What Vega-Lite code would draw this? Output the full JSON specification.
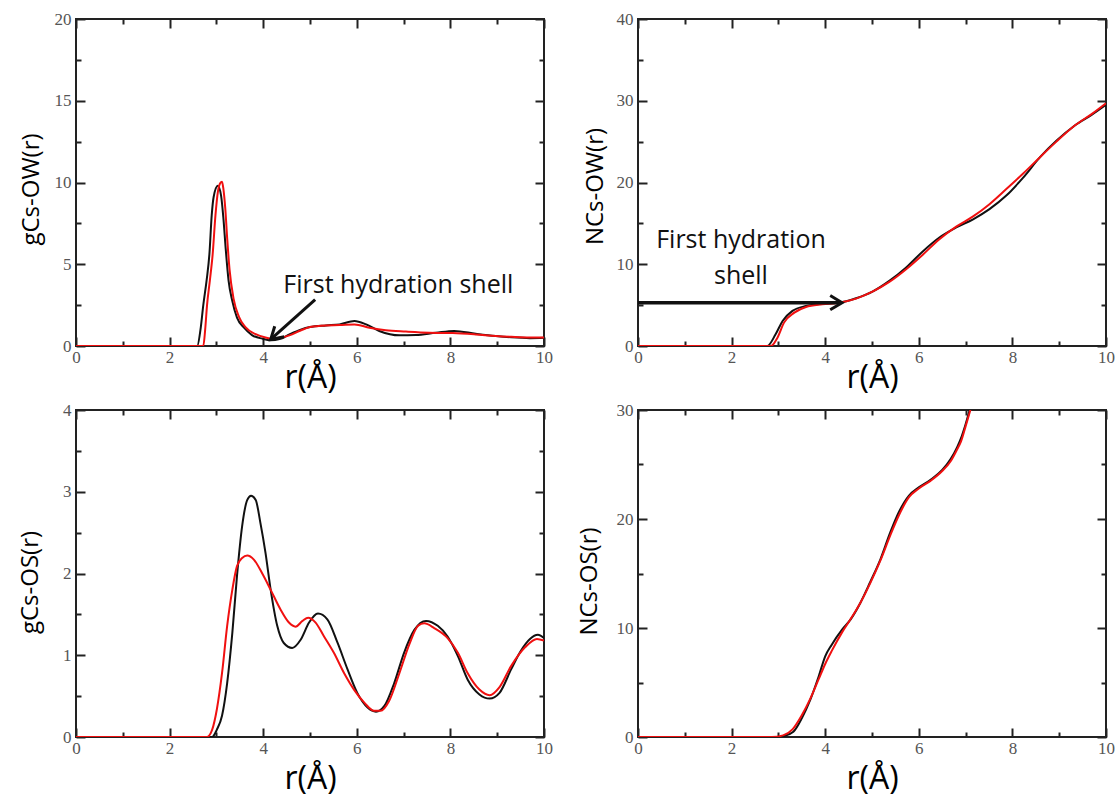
{
  "$schema": "https://vega.github.io/schema/vega-lite/v6.json",
  "background": "white",
  "padding": {"left": 17, "top": 9, "right": 5, "bottom": 5},
  "columns": 2,
  "spacing": {"row": 64, "column": 94},
  "bounds": "flush",
  "config": {
    "view": {"stroke": "#222", "strokeWidth": 2},
    "axis": {
      "grid": false,
      "domain": false,
      "labelFont": "Liberation Serif",
      "labelFontSize": 17,
      "labelColor": "#555",
      "labelFlush": false,
      "labelOverlap": false,
      "tickColor": "#222",
      "tickWidth": 2,
      "titleFont": "Open Sans",
      "titleFontWeight": "normal",
      "titleColor": "#000"
    }
  },
  "datasets": {
    "gow": [
      {"r": 0, "v": 0, "curve": "black"}, {"r": 2.5, "v": 0, "curve": "black"}, {"r": 2.59, "v": 0, "curve": "black"},
      {"r": 2.66, "v": 1.0, "curve": "black"}, {"r": 2.72, "v": 2.5, "curve": "black"}, {"r": 2.79, "v": 4.0, "curve": "black"},
      {"r": 2.85, "v": 5.6, "curve": "black"}, {"r": 2.9, "v": 8.0, "curve": "black"}, {"r": 2.94, "v": 9.1, "curve": "black"},
      {"r": 3.03, "v": 9.8, "curve": "black"}, {"r": 3.1, "v": 9.2, "curve": "black"}, {"r": 3.15, "v": 7.8, "curve": "black"},
      {"r": 3.2, "v": 5.9, "curve": "black"}, {"r": 3.26, "v": 4.0, "curve": "black"}, {"r": 3.34, "v": 2.75, "curve": "black"},
      {"r": 3.44, "v": 1.73, "curve": "black"}, {"r": 3.59, "v": 1.12, "curve": "black"}, {"r": 3.76, "v": 0.67, "curve": "black"},
      {"r": 3.98, "v": 0.45, "curve": "black"}, {"r": 4.16, "v": 0.35, "curve": "black"}, {"r": 4.35, "v": 0.42, "curve": "black"},
      {"r": 4.56, "v": 0.71, "curve": "black"}, {"r": 4.8, "v": 1.0, "curve": "black"}, {"r": 5.0, "v": 1.16, "curve": "black"},
      {"r": 5.34, "v": 1.26, "curve": "black"}, {"r": 5.63, "v": 1.32, "curve": "black"}, {"r": 5.95, "v": 1.53, "curve": "black"},
      {"r": 6.2, "v": 1.32, "curve": "black"}, {"r": 6.48, "v": 0.92, "curve": "black"}, {"r": 6.91, "v": 0.65, "curve": "black"},
      {"r": 7.26, "v": 0.67, "curve": "black"}, {"r": 7.69, "v": 0.81, "curve": "black"}, {"r": 8.08, "v": 0.92, "curve": "black"},
      {"r": 8.54, "v": 0.75, "curve": "black"}, {"r": 8.97, "v": 0.61, "curve": "black"}, {"r": 9.3, "v": 0.53, "curve": "black"},
      {"r": 9.7, "v": 0.48, "curve": "black"}, {"r": 10, "v": 0.5, "curve": "black"},
      {"r": 0, "v": 0, "curve": "red"}, {"r": 2.6, "v": 0, "curve": "red"}, {"r": 2.72, "v": 0, "curve": "red"},
      {"r": 2.76, "v": 1.0, "curve": "red"}, {"r": 2.8, "v": 2.5, "curve": "red"}, {"r": 2.86, "v": 4.0, "curve": "red"},
      {"r": 2.92, "v": 5.6, "curve": "red"}, {"r": 2.98, "v": 8.0, "curve": "red"}, {"r": 3.03, "v": 9.4, "curve": "red"},
      {"r": 3.08, "v": 9.95, "curve": "red"}, {"r": 3.12, "v": 10.05, "curve": "red"}, {"r": 3.15, "v": 9.6, "curve": "red"},
      {"r": 3.19, "v": 8.4, "curve": "red"}, {"r": 3.23, "v": 6.6, "curve": "red"}, {"r": 3.28, "v": 4.7, "curve": "red"},
      {"r": 3.37, "v": 2.85, "curve": "red"}, {"r": 3.48, "v": 1.8, "curve": "red"}, {"r": 3.62, "v": 1.15, "curve": "red"},
      {"r": 3.84, "v": 0.72, "curve": "red"}, {"r": 4.05, "v": 0.52, "curve": "red"}, {"r": 4.19, "v": 0.45, "curve": "red"},
      {"r": 4.35, "v": 0.5, "curve": "red"}, {"r": 4.56, "v": 0.65, "curve": "red"}, {"r": 4.8, "v": 0.95, "curve": "red"},
      {"r": 5.0, "v": 1.16, "curve": "red"}, {"r": 5.34, "v": 1.26, "curve": "red"}, {"r": 5.63, "v": 1.28, "curve": "red"},
      {"r": 5.95, "v": 1.32, "curve": "red"}, {"r": 6.27, "v": 1.12, "curve": "red"}, {"r": 6.62, "v": 0.96, "curve": "red"},
      {"r": 7.05, "v": 0.88, "curve": "red"}, {"r": 7.55, "v": 0.81, "curve": "red"}, {"r": 8.05, "v": 0.79, "curve": "red"},
      {"r": 8.54, "v": 0.71, "curve": "red"}, {"r": 8.97, "v": 0.61, "curve": "red"}, {"r": 9.3, "v": 0.56, "curve": "red"},
      {"r": 9.7, "v": 0.52, "curve": "red"}, {"r": 10, "v": 0.52, "curve": "red"}
    ],
    "now": [
      {"r": 0, "v": 0, "curve": "black"}, {"r": 2.6, "v": 0, "curve": "black"}, {"r": 2.76, "v": 0, "curve": "black"},
      {"r": 2.94, "v": 1.43, "curve": "black"}, {"r": 3.09, "v": 3.06, "curve": "black"}, {"r": 3.3, "v": 4.29, "curve": "black"},
      {"r": 3.59, "v": 4.9, "curve": "black"}, {"r": 3.94, "v": 5.18, "curve": "black"}, {"r": 4.3, "v": 5.3, "curve": "black"},
      {"r": 4.66, "v": 5.84, "curve": "black"}, {"r": 5.01, "v": 6.65, "curve": "black"}, {"r": 5.37, "v": 7.96, "curve": "black"},
      {"r": 5.73, "v": 9.6, "curve": "black"}, {"r": 6.09, "v": 11.6, "curve": "black"}, {"r": 6.44, "v": 13.27, "curve": "black"},
      {"r": 6.8, "v": 14.5, "curve": "black"}, {"r": 7.16, "v": 15.5, "curve": "black"}, {"r": 7.51, "v": 16.74, "curve": "black"},
      {"r": 7.87, "v": 18.4, "curve": "black"}, {"r": 8.23, "v": 20.6, "curve": "black"}, {"r": 8.59, "v": 23.1, "curve": "black"},
      {"r": 8.94, "v": 25.1, "curve": "black"}, {"r": 9.34, "v": 27.0, "curve": "black"}, {"r": 9.7, "v": 28.3, "curve": "black"},
      {"r": 10, "v": 29.5, "curve": "black"},
      {"r": 0, "v": 0, "curve": "red"}, {"r": 2.7, "v": 0, "curve": "red"}, {"r": 2.84, "v": 0, "curve": "red"},
      {"r": 2.98, "v": 1.02, "curve": "red"}, {"r": 3.12, "v": 2.86, "curve": "red"}, {"r": 3.34, "v": 4.08, "curve": "red"},
      {"r": 3.59, "v": 4.78, "curve": "red"}, {"r": 3.94, "v": 5.1, "curve": "red"}, {"r": 4.3, "v": 5.3, "curve": "red"},
      {"r": 4.66, "v": 5.8, "curve": "red"}, {"r": 5.01, "v": 6.65, "curve": "red"}, {"r": 5.37, "v": 7.84, "curve": "red"},
      {"r": 5.73, "v": 9.4, "curve": "red"}, {"r": 6.09, "v": 11.2, "curve": "red"}, {"r": 6.44, "v": 13.06, "curve": "red"},
      {"r": 6.8, "v": 14.6, "curve": "red"}, {"r": 7.16, "v": 15.85, "curve": "red"}, {"r": 7.51, "v": 17.35, "curve": "red"},
      {"r": 7.87, "v": 19.2, "curve": "red"}, {"r": 8.23, "v": 21.1, "curve": "red"}, {"r": 8.59, "v": 23.1, "curve": "red"},
      {"r": 8.94, "v": 25.0, "curve": "red"}, {"r": 9.34, "v": 27.0, "curve": "red"}, {"r": 9.7, "v": 28.4, "curve": "red"},
      {"r": 10, "v": 29.7, "curve": "red"}
    ],
    "gos": [
      {"r": 0, "v": 0, "curve": "black"}, {"r": 2.7, "v": 0, "curve": "black"}, {"r": 2.91, "v": 0, "curve": "black"},
      {"r": 3.01, "v": 0.09, "curve": "black"}, {"r": 3.12, "v": 0.26, "curve": "black"}, {"r": 3.23, "v": 0.66, "curve": "black"},
      {"r": 3.34, "v": 1.27, "curve": "black"}, {"r": 3.44, "v": 1.97, "curve": "black"}, {"r": 3.55, "v": 2.58, "curve": "black"},
      {"r": 3.66, "v": 2.9, "curve": "black"}, {"r": 3.74, "v": 2.95, "curve": "black"}, {"r": 3.84, "v": 2.9, "curve": "black"},
      {"r": 3.94, "v": 2.62, "curve": "black"}, {"r": 4.05, "v": 2.25, "curve": "black"}, {"r": 4.16, "v": 1.8, "curve": "black"},
      {"r": 4.3, "v": 1.36, "curve": "black"}, {"r": 4.44, "v": 1.15, "curve": "black"}, {"r": 4.62, "v": 1.09, "curve": "black"},
      {"r": 4.8, "v": 1.19, "curve": "black"}, {"r": 4.98, "v": 1.4, "curve": "black"}, {"r": 5.17, "v": 1.51, "curve": "black"},
      {"r": 5.37, "v": 1.44, "curve": "black"}, {"r": 5.59, "v": 1.15, "curve": "black"}, {"r": 5.8, "v": 0.83, "curve": "black"},
      {"r": 6.01, "v": 0.54, "curve": "black"}, {"r": 6.23, "v": 0.36, "curve": "black"}, {"r": 6.41, "v": 0.31, "curve": "black"},
      {"r": 6.59, "v": 0.38, "curve": "black"}, {"r": 6.8, "v": 0.66, "curve": "black"}, {"r": 7.01, "v": 1.03, "curve": "black"},
      {"r": 7.23, "v": 1.31, "curve": "black"}, {"r": 7.48, "v": 1.42, "curve": "black"}, {"r": 7.73, "v": 1.36, "curve": "black"},
      {"r": 7.94, "v": 1.23, "curve": "black"}, {"r": 8.16, "v": 0.99, "curve": "black"}, {"r": 8.37, "v": 0.7, "curve": "black"},
      {"r": 8.62, "v": 0.52, "curve": "black"}, {"r": 8.84, "v": 0.47, "curve": "black"}, {"r": 9.05, "v": 0.54, "curve": "black"},
      {"r": 9.3, "v": 0.83, "curve": "black"}, {"r": 9.5, "v": 1.05, "curve": "black"}, {"r": 9.7, "v": 1.2, "curve": "black"},
      {"r": 9.87, "v": 1.25, "curve": "black"}, {"r": 10, "v": 1.21, "curve": "black"},
      {"r": 0, "v": 0, "curve": "red"}, {"r": 2.6, "v": 0, "curve": "red"}, {"r": 2.8, "v": 0, "curve": "red"},
      {"r": 2.91, "v": 0.09, "curve": "red"}, {"r": 3.01, "v": 0.34, "curve": "red"}, {"r": 3.12, "v": 0.78, "curve": "red"},
      {"r": 3.23, "v": 1.36, "curve": "red"}, {"r": 3.34, "v": 1.8, "curve": "red"}, {"r": 3.44, "v": 2.09, "curve": "red"},
      {"r": 3.55, "v": 2.19, "curve": "red"}, {"r": 3.66, "v": 2.22, "curve": "red"}, {"r": 3.8, "v": 2.17, "curve": "red"},
      {"r": 3.98, "v": 2.0, "curve": "red"}, {"r": 4.16, "v": 1.8, "curve": "red"}, {"r": 4.37, "v": 1.56, "curve": "red"},
      {"r": 4.55, "v": 1.4, "curve": "red"}, {"r": 4.69, "v": 1.35, "curve": "red"}, {"r": 4.84, "v": 1.42, "curve": "red"},
      {"r": 4.96, "v": 1.46, "curve": "red"}, {"r": 5.12, "v": 1.4, "curve": "red"}, {"r": 5.3, "v": 1.23, "curve": "red"},
      {"r": 5.51, "v": 1.03, "curve": "red"}, {"r": 5.73, "v": 0.78, "curve": "red"}, {"r": 5.94, "v": 0.58, "curve": "red"},
      {"r": 6.16, "v": 0.42, "curve": "red"}, {"r": 6.37, "v": 0.32, "curve": "red"}, {"r": 6.51, "v": 0.32, "curve": "red"},
      {"r": 6.69, "v": 0.44, "curve": "red"}, {"r": 6.91, "v": 0.78, "curve": "red"}, {"r": 7.12, "v": 1.13, "curve": "red"},
      {"r": 7.31, "v": 1.36, "curve": "red"}, {"r": 7.44, "v": 1.39, "curve": "red"}, {"r": 7.66, "v": 1.33, "curve": "red"},
      {"r": 7.94, "v": 1.21, "curve": "red"}, {"r": 8.16, "v": 1.03, "curve": "red"}, {"r": 8.37, "v": 0.78, "curve": "red"},
      {"r": 8.62, "v": 0.58, "curve": "red"}, {"r": 8.84, "v": 0.51, "curve": "red"}, {"r": 9.05, "v": 0.61, "curve": "red"},
      {"r": 9.3, "v": 0.87, "curve": "red"}, {"r": 9.6, "v": 1.1, "curve": "red"}, {"r": 9.85, "v": 1.2, "curve": "red"},
      {"r": 10, "v": 1.18, "curve": "red"}
    ],
    "nos": [
      {"r": 0, "v": 0, "curve": "black"}, {"r": 2.8, "v": 0, "curve": "black"}, {"r": 2.93, "v": 0, "curve": "black"},
      {"r": 3.11, "v": 0.08, "curve": "black"}, {"r": 3.32, "v": 0.48, "curve": "black"}, {"r": 3.5, "v": 1.71, "curve": "black"},
      {"r": 3.68, "v": 3.4, "curve": "black"}, {"r": 3.86, "v": 5.55, "curve": "black"}, {"r": 4.0, "v": 7.4, "curve": "black"},
      {"r": 4.14, "v": 8.47, "curve": "black"}, {"r": 4.36, "v": 9.85, "curve": "black"}, {"r": 4.54, "v": 10.77, "curve": "black"},
      {"r": 4.75, "v": 12.3, "curve": "black"}, {"r": 4.96, "v": 14.2, "curve": "black"}, {"r": 5.18, "v": 16.3, "curve": "black"},
      {"r": 5.39, "v": 18.77, "curve": "black"}, {"r": 5.57, "v": 20.6, "curve": "black"}, {"r": 5.79, "v": 22.15, "curve": "black"},
      {"r": 6.0, "v": 22.9, "curve": "black"}, {"r": 6.25, "v": 23.6, "curve": "black"}, {"r": 6.5, "v": 24.5, "curve": "black"},
      {"r": 6.68, "v": 25.5, "curve": "black"}, {"r": 6.82, "v": 26.6, "curve": "black"}, {"r": 6.9, "v": 27.4, "curve": "black"},
      {"r": 7.0, "v": 28.7, "curve": "black"}, {"r": 7.1, "v": 30.2, "curve": "black"}, {"r": 7.2, "v": 31.8, "curve": "black"},
      {"r": 0, "v": 0, "curve": "red"}, {"r": 2.75, "v": 0, "curve": "red"}, {"r": 2.86, "v": 0, "curve": "red"},
      {"r": 3.1, "v": 0.15, "curve": "red"}, {"r": 3.3, "v": 0.7, "curve": "red"}, {"r": 3.5, "v": 2.0, "curve": "red"},
      {"r": 3.68, "v": 3.5, "curve": "red"}, {"r": 3.86, "v": 5.3, "curve": "red"}, {"r": 4.0, "v": 6.7, "curve": "red"},
      {"r": 4.14, "v": 7.9, "curve": "red"}, {"r": 4.36, "v": 9.6, "curve": "red"}, {"r": 4.54, "v": 10.8, "curve": "red"},
      {"r": 4.75, "v": 12.3, "curve": "red"}, {"r": 4.96, "v": 14.1, "curve": "red"}, {"r": 5.18, "v": 16.2, "curve": "red"},
      {"r": 5.39, "v": 18.5, "curve": "red"}, {"r": 5.57, "v": 20.3, "curve": "red"}, {"r": 5.79, "v": 22.0, "curve": "red"},
      {"r": 6.0, "v": 22.8, "curve": "red"}, {"r": 6.25, "v": 23.5, "curve": "red"}, {"r": 6.5, "v": 24.4, "curve": "red"},
      {"r": 6.68, "v": 25.3, "curve": "red"}, {"r": 6.82, "v": 26.4, "curve": "red"}, {"r": 6.9, "v": 27.1, "curve": "red"},
      {"r": 7.0, "v": 28.5, "curve": "red"}, {"r": 7.12, "v": 30.3, "curve": "red"}, {"r": 7.2, "v": 31.7, "curve": "red"}
    ]
  },
  "concat": [
    {
      "width": 468, "height": 327,
      "data": {"name": "gow"},
      "layer": [
        {
          "transform": [{"filter": "datum.curve === 'black'"}],
          "mark": {"type": "line", "color": "#111", "strokeWidth": 2, "interpolate": "monotone", "clip": true},
          "encoding": {
            "x": {"field": "r", "type": "quantitative", "scale": {"domain": [0, 10], "nice": false},
              "axis": {"orient": "bottom", "values": [0,1,2,3,4,5,6,7,8,9,10], "labelExpr": "datum.value % 2 === 0 ? format(datum.value, 'd') : ''",
                "tickSize": {"condition": {"test": "datum.value % 2 === 0", "value": -9}, "value": -5}, "labelPadding": 12,
                "title": "r(Å)", "titleFontSize": 32, "titlePadding": -7}},
            "y": {"field": "v", "type": "quantitative", "scale": {"domain": [0, 20], "nice": false},
              "axis": {"orient": "left", "values": [0,2.5,5,7.5,10,12.5,15,17.5,20], "labelExpr": "datum.value % 5 === 0 ? format(datum.value, 'd') : ''",
                "tickSize": {"condition": {"test": "datum.value % 5 === 0", "value": -9}, "value": -5}, "labelPadding": 14,
                "title": "gCs-OW(r)", "titleFontSize": 24, "titleX": -33, "titleY": 170}}
          }
        },
        {
          "transform": [{"filter": "datum.curve === 'red'"}],
          "mark": {"type": "line", "color": "#f01010", "strokeWidth": 2, "interpolate": "monotone", "clip": true},
          "encoding": {
            "x": {"field": "r", "type": "quantitative", "scale": {"domain": [0, 10], "nice": false},
              "axis": {"orient": "top", "values": [0,1,2,3,4,5,6,7,8,9,10], "labels": false, "title": null,
                "tickSize": {"condition": {"test": "datum.value % 2 === 0", "value": -9}, "value": -5}}},
            "y": {"field": "v", "type": "quantitative", "scale": {"domain": [0, 20], "nice": false},
              "axis": {"orient": "right", "values": [0,2.5,5,7.5,10,12.5,15,17.5,20], "labels": false, "title": null,
                "tickSize": {"condition": {"test": "datum.value % 5 === 0", "value": -9}, "value": -5}}}
          }
        },
        {
          "data": {"values": [{"r": 5.11, "v": 2.84, "r2": 4.16, "v2": 0.40}]},
          "mark": {"type": "rule", "color": "#111", "strokeWidth": 3},
          "encoding": {
            "x": {"field": "r", "type": "quantitative", "scale": {"domain": [0, 10], "nice": false}, "axis": null},
            "x2": {"field": "r2"},
            "y": {"field": "v", "type": "quantitative", "scale": {"domain": [0, 20], "nice": false}, "axis": null},
            "y2": {"field": "v2"}
          }
        },
        {
          "data": {"values": [{"r": 4.16, "v": 0.40}]},
          "mark": {"type": "point", "shape": "M-1,-0.6L0,0L-1,0.6", "size": 560, "filled": false, "stroke": "#111", "strokeWidth": 3, "angle": 138, "opacity": 1},
          "encoding": {
            "x": {"field": "r", "type": "quantitative", "scale": {"domain": [0, 10], "nice": false}, "axis": null},
            "y": {"field": "v", "type": "quantitative", "scale": {"domain": [0, 20], "nice": false}, "axis": null}
          }
        },
        {
          "data": {"values": [{"r": 4.43, "v": 3.27, "label": "First hydration shell"}]},
          "mark": {"type": "text", "font": "Open Sans", "fontSize": 25, "align": "left", "baseline": "alphabetic", "color": "#111"},
          "encoding": {
            "x": {"field": "r", "type": "quantitative", "scale": {"domain": [0, 10], "nice": false}, "axis": null},
            "y": {"field": "v", "type": "quantitative", "scale": {"domain": [0, 20], "nice": false}, "axis": null},
            "text": {"field": "label"}
          }
        }
      ],
      "resolve": {"axis": {"x": "independent", "y": "independent"}}
    },
    {
      "width": 468, "height": 327,
      "data": {"name": "now"},
      "layer": [
        {
          "transform": [{"filter": "datum.curve === 'black'"}],
          "mark": {"type": "line", "color": "#111", "strokeWidth": 2, "interpolate": "monotone", "clip": true},
          "encoding": {
            "x": {"field": "r", "type": "quantitative", "scale": {"domain": [0, 10], "nice": false},
              "axis": {"orient": "bottom", "values": [0,1,2,3,4,5,6,7,8,9,10], "labelExpr": "datum.value % 2 === 0 ? format(datum.value, 'd') : ''",
                "tickSize": {"condition": {"test": "datum.value % 2 === 0", "value": -9}, "value": -5}, "labelPadding": 12,
                "title": "r(Å)", "titleFontSize": 32, "titlePadding": -7}},
            "y": {"field": "v", "type": "quantitative", "scale": {"domain": [0, 40], "nice": false},
              "axis": {"orient": "left", "values": [0,5,10,15,20,25,30,35,40], "labelExpr": "datum.value % 10 === 0 ? format(datum.value, 'd') : ''",
                "tickSize": {"condition": {"test": "datum.value % 10 === 0", "value": -9}, "value": -5}, "labelPadding": 14,
                "title": "NCs-OW(r)", "titleFontSize": 24, "titleX": -31, "titleY": 167}}
          }
        },
        {
          "transform": [{"filter": "datum.curve === 'red'"}],
          "mark": {"type": "line", "color": "#f01010", "strokeWidth": 2, "interpolate": "monotone", "clip": true},
          "encoding": {
            "x": {"field": "r", "type": "quantitative", "scale": {"domain": [0, 10], "nice": false},
              "axis": {"orient": "top", "values": [0,1,2,3,4,5,6,7,8,9,10], "labels": false, "title": null,
                "tickSize": {"condition": {"test": "datum.value % 2 === 0", "value": -9}, "value": -5}}},
            "y": {"field": "v", "type": "quantitative", "scale": {"domain": [0, 40], "nice": false},
              "axis": {"orient": "right", "values": [0,5,10,15,20,25,30,35,40], "labels": false, "title": null,
                "tickSize": {"condition": {"test": "datum.value % 10 === 0", "value": -9}, "value": -5}}}
          }
        },
        {
          "data": {"values": [{"r": 0, "v": 5.3, "r2": 4.3, "v2": 5.3}]},
          "mark": {"type": "rule", "color": "#111", "strokeWidth": 3.5},
          "encoding": {
            "x": {"field": "r", "type": "quantitative", "scale": {"domain": [0, 10], "nice": false}, "axis": null},
            "x2": {"field": "r2"},
            "y": {"field": "v", "type": "quantitative", "scale": {"domain": [0, 40], "nice": false}, "axis": null},
            "y2": {"field": "v2"}
          }
        },
        {
          "data": {"values": [{"r": 4.36, "v": 5.3}]},
          "mark": {"type": "point", "shape": "M-1,-0.6L0,0L-1,0.6", "size": 560, "filled": false, "stroke": "#111", "strokeWidth": 3, "angle": 0, "opacity": 1},
          "encoding": {
            "x": {"field": "r", "type": "quantitative", "scale": {"domain": [0, 10], "nice": false}, "axis": null},
            "y": {"field": "v", "type": "quantitative", "scale": {"domain": [0, 40], "nice": false}, "axis": null}
          }
        },
        {
          "data": {"values": [{"r": 2.2, "v": 12.0, "label": ["First hydration", "shell"]}]},
          "mark": {"type": "text", "font": "Open Sans", "fontSize": 25, "align": "center", "baseline": "alphabetic", "lineHeight": 36, "color": "#111"},
          "encoding": {
            "x": {"field": "r", "type": "quantitative", "scale": {"domain": [0, 10], "nice": false}, "axis": null},
            "y": {"field": "v", "type": "quantitative", "scale": {"domain": [0, 40], "nice": false}, "axis": null},
            "text": {"field": "label"}
          }
        }
      ],
      "resolve": {"axis": {"x": "independent", "y": "independent"}}
    },
    {
      "width": 468, "height": 327,
      "data": {"name": "gos"},
      "layer": [
        {
          "transform": [{"filter": "datum.curve === 'black'"}],
          "mark": {"type": "line", "color": "#111", "strokeWidth": 2, "interpolate": "monotone", "clip": true},
          "encoding": {
            "x": {"field": "r", "type": "quantitative", "scale": {"domain": [0, 10], "nice": false},
              "axis": {"orient": "bottom", "values": [0,1,2,3,4,5,6,7,8,9,10], "labelExpr": "datum.value % 2 === 0 ? format(datum.value, 'd') : ''",
                "tickSize": {"condition": {"test": "datum.value % 2 === 0", "value": -9}, "value": -5}, "labelPadding": 12,
                "title": "r(Å)", "titleFontSize": 32, "titlePadding": 3}},
            "y": {"field": "v", "type": "quantitative", "scale": {"domain": [0, 4], "nice": false},
              "axis": {"orient": "left", "values": [0,0.5,1,1.5,2,2.5,3,3.5,4], "labelExpr": "datum.value % 1 === 0 ? format(datum.value, 'd') : ''",
                "tickSize": {"condition": {"test": "datum.value % 1 === 0", "value": -9}, "value": -5}, "labelPadding": 14,
                "title": "gCs-OS(r)", "titleFontSize": 24, "titleX": -34, "titleY": 172}}
          }
        },
        {
          "transform": [{"filter": "datum.curve === 'red'"}],
          "mark": {"type": "line", "color": "#f01010", "strokeWidth": 2, "interpolate": "monotone", "clip": true},
          "encoding": {
            "x": {"field": "r", "type": "quantitative", "scale": {"domain": [0, 10], "nice": false},
              "axis": {"orient": "top", "values": [0,1,2,3,4,5,6,7,8,9,10], "labels": false, "title": null,
                "tickSize": {"condition": {"test": "datum.value % 2 === 0", "value": -9}, "value": -5}}},
            "y": {"field": "v", "type": "quantitative", "scale": {"domain": [0, 4], "nice": false},
              "axis": {"orient": "right", "values": [0,0.5,1,1.5,2,2.5,3,3.5,4], "labels": false, "title": null,
                "tickSize": {"condition": {"test": "datum.value % 1 === 0", "value": -9}, "value": -5}}}
          }
        }
      ],
      "resolve": {"axis": {"x": "independent", "y": "independent"}}
    },
    {
      "width": 468, "height": 327,
      "data": {"name": "nos"},
      "layer": [
        {
          "transform": [{"filter": "datum.curve === 'black'"}],
          "mark": {"type": "line", "color": "#111", "strokeWidth": 2, "interpolate": "monotone", "clip": true},
          "encoding": {
            "x": {"field": "r", "type": "quantitative", "scale": {"domain": [0, 10], "nice": false},
              "axis": {"orient": "bottom", "values": [0,1,2,3,4,5,6,7,8,9,10], "labelExpr": "datum.value % 2 === 0 ? format(datum.value, 'd') : ''",
                "tickSize": {"condition": {"test": "datum.value % 2 === 0", "value": -9}, "value": -5}, "labelPadding": 12,
                "title": "r(Å)", "titleFontSize": 32, "titlePadding": 3}},
            "y": {"field": "v", "type": "quantitative", "scale": {"domain": [0, 30], "nice": false},
              "axis": {"orient": "left", "values": [0,5,10,15,20,25,30], "labelExpr": "datum.value % 10 === 0 ? format(datum.value, 'd') : ''",
                "tickSize": {"condition": {"test": "datum.value % 10 === 0", "value": -9}, "value": -5}, "labelPadding": 14,
                "title": "NCs-OS(r)", "titleFontSize": 24, "titleX": -37, "titleY": 171}}
          }
        },
        {
          "transform": [{"filter": "datum.curve === 'red'"}],
          "mark": {"type": "line", "color": "#f01010", "strokeWidth": 2, "interpolate": "monotone", "clip": true},
          "encoding": {
            "x": {"field": "r", "type": "quantitative", "scale": {"domain": [0, 10], "nice": false},
              "axis": {"orient": "top", "values": [0,1,2,3,4,5,6,7,8,9,10], "labels": false, "title": null,
                "tickSize": {"condition": {"test": "datum.value % 2 === 0", "value": -9}, "value": -5}}},
            "y": {"field": "v", "type": "quantitative", "scale": {"domain": [0, 30], "nice": false},
              "axis": {"orient": "right", "values": [0,5,10,15,20,25,30], "labels": false, "title": null,
                "tickSize": {"condition": {"test": "datum.value % 10 === 0", "value": -9}, "value": -5}}}
          }
        }
      ],
      "resolve": {"axis": {"x": "independent", "y": "independent"}}
    }
  ]
}
